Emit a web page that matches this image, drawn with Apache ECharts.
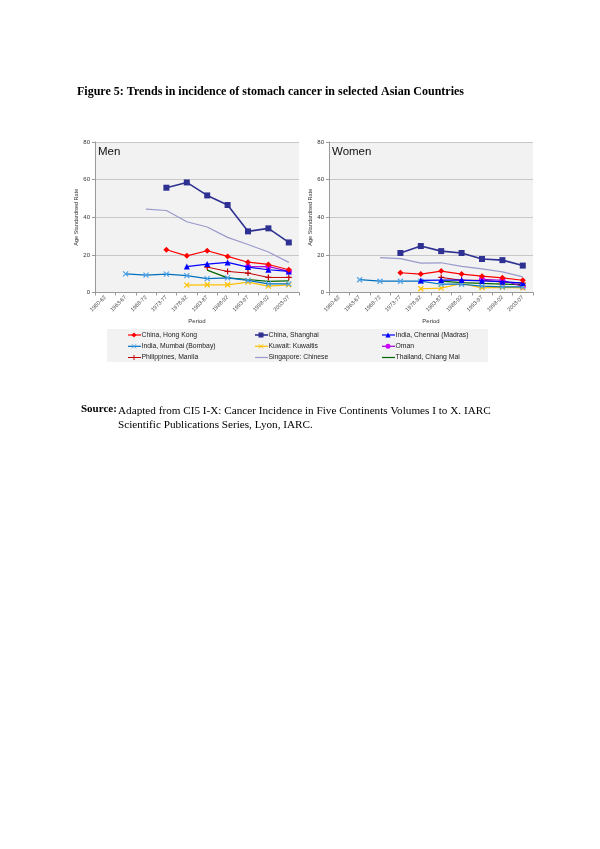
<!DOCTYPE html>
<html><head><meta charset="utf-8">
<script src="https://cdn.jsdelivr.net/npm/echarts@6/dist/echarts.min.js"></script>
<style>html,body{margin:0;padding:0;background:#fff}#c{width:600px;height:849px}</style>
</head><body><div id="c"></div>
<script>
const periods = ['1960-62','1963-67','1968-72','1973-77','1978-82','1983-87','1988-92','1993-97','1998-02','2003-07'];
const yTicks = [0,20,40,60,80];
const seriesNames = ['China, Hong Kong','China, Shanghai','India, Chennai (Madras)','India, Mumbai (Bombay)','Kuwait: Kuwaitis','Oman','Philippines, Manila','Singapore: Chinese','Thailand, Chiang Mai'];
// Men
const menHongKong   = [null,null,null,22.7,19.5,22.2,19.2,16.1,14.9,12.1];
const menShanghai   = [null,null,null,55.7,58.5,51.6,46.5,32.5,34.1,26.6];
const menChennai    = [null,null,null,null,13.8,15.1,16.0,13.5,12.1,11.2];
const menMumbai     = [null,9.9,9.2,9.8,9.0,7.4,7.8,6.4,4.6,4.6];
const menKuwait     = [null,null,null,null,3.9,4.1,4.1,5.5,3.4,4.1];
const menOman       = [null,null,null,null,null,null,null,13.7,13.8,11.2];
const menManila     = [null,null,null,null,null,13.5,11.2,10.3,8.0,8.0];
const menSingapore  = [13.3,null,44.3,43.6,37.6,34.8,29.3,25.5,21.5,16.0];
const menChiangMai  = [null,null,null,null,null,11.9,7.8,6.9,5.9,6.2];
// Women
const womenHongKong  = [null,null,null,10.5,9.8,11.4,9.8,8.7,7.8,6.5];
const womenShanghai  = [null,null,null,21.0,24.7,22.0,21.0,17.8,17.2,14.3];
const womenChennai   = [null,null,null,null,6.4,6.6,6.6,6.2,5.8,5.0];
const womenMumbai    = [null,6.8,6.0,6.0,6.0,4.4,4.4,3.4,3.0,3.0];
const womenKuwait    = [null,null,null,null,2.0,2.3,4.8,2.5,2.7,2.5];
const womenOman      = [null,null,null,null,null,null,null,7.0,6.5,3.2];
const womenManila    = [null,null,null,null,null,8.0,6.5,6.5,5.5,5.0];
const womenSingapore = [3.6,null,18.5,18.0,15.6,15.8,13.9,12.6,11.0,8.3];
const womenChiangMai = [null,null,null,null,null,6.0,5.2,4.8,4.5,4.2];

const menData = [menHongKong,menShanghai,menChennai,menMumbai,menKuwait,menOman,menManila,menSingapore,menChiangMai];
const womenData = [womenHongKong,womenShanghai,womenChennai,womenMumbai,womenKuwait,womenOman,womenManila,womenSingapore,womenChiangMai];

const X_PATH = 'path://M0,0L10,10M10,0L0,10';
const PLUS_PATH = 'path://M5,0L5,10M0,5L10,5';
const DASH_PATH = 'path://M0,5L10,5';
const styles = [
  {line:'#ff0000', fill:'#ff0000', symbol:'diamond', key:'diamond', size:6, lw:1.2},
  {line:'#2e3192', fill:'#2e3192', symbol:'rect', key:'rect', size:6, lw:1.6},
  {line:'#0000ff', fill:'#0000ff', symbol:'triangle', key:'triangle', size:6, lw:1.2},
  {line:'#0070c0', fill:'#4fa3e8', symbol:X_PATH, key:'x', size:5, lw:1.2, stroke:true},
  {line:'#ffc000', fill:'#ffc000', symbol:X_PATH, key:'x', size:5, lw:1.2, stroke:true},
  {line:'#9900cc', fill:'#cc00ff', symbol:'circle', key:'circle', size:6, lw:1.2},
  {line:'#c00000', fill:'#c00000', symbol:PLUS_PATH, key:'plus', size:6, lw:1.0, stroke:true},
  {line:'#9999cc', fill:'#9999cc', symbol:DASH_PATH, key:'none', size:4, lw:1.2, stroke:true},
  {line:'#006600', fill:'#006600', symbol:DASH_PATH, key:'none', size:4, lw:1.2, stroke:true}
];

const FONT = 'Liberation Sans';
function grid(left){ return {left:left, width:204, top:142, height:150.5, backgroundColor:'#f2f2f2', show:true, borderWidth:0}; }
function xAxis(i){ return {type:'category', gridIndex:i, data:periods, boundaryGap:true,
  name:'Period', nameLocation:'middle', nameGap:26, nameTextStyle:{fontFamily:FONT,fontSize:6,color:'#333'},
  axisLine:{lineStyle:{color:'#999',width:1}}, axisTick:{show:true,length:3,lineStyle:{color:'#999'}},
  axisLabel:{rotate:45, fontSize:5.5, fontFamily:FONT, color:'#444', margin:4, interval:0}}; }
function yAxis(i){ return {type:'value', gridIndex:i, min:yTicks[0], max:yTicks[yTicks.length-1], interval:20,
  name:'Age Standardised Rate', nameLocation:'middle', nameGap:14, nameTextStyle:{fontFamily:FONT,fontSize:5.5,color:'#333'},
  axisLine:{show:true, lineStyle:{color:'#999'}}, axisTick:{show:true,length:3,lineStyle:{color:'#999'}},
  splitLine:{lineStyle:{color:'#c8c8c8',width:1}},
  axisLabel:{fontSize:6, fontFamily:FONT, color:'#333', margin:5}}; }

const series = [];
[menData, womenData].forEach((set, gi) => {
  set.forEach((d, k) => {
    const s = styles[k];
    series.push({
      name: seriesNames[k], type:'line', xAxisIndex:gi, yAxisIndex:gi, data:d,
      connectNulls:false, symbol:s.symbol, symbolSize:s.size, showSymbol:true,
      lineStyle:{color:s.line, width:s.lw},
      itemStyle:{color:s.fill, borderColor:s.fill, borderWidth: s.stroke?1.2:0},
      emphasis:{disabled:true}, animation:false, z: 10-k
    });
  });
});

// Legend key drawn as graphics (3 columns x 3 rows)
const legendCols = [128, 255, 382];
const legendRows = [335, 346.3, 357.5];
const legendGraphics = [{type:'rect', shape:{x:107,y:329,width:381,height:33}, style:{fill:'#f2f2f2'}, z:-1, silent:true}];
function seg(x1,y1,x2,y2,c){ return {type:'line', shape:{x1:x1,y1:y1,x2:x2,y2:y2}, style:{stroke:c, lineWidth:1}, silent:true}; }
seriesNames.forEach((n, i) => {
  const s = styles[i];
  const x0 = legendCols[i % 3], y = legendRows[Math.floor(i / 3)];
  const cx = x0 + 6;
  legendGraphics.push({type:'line', shape:{x1:x0, y1:y, x2:x0+13, y2:y}, style:{stroke:s.line, lineWidth:s.lw}, silent:true});
  const r = 2.6;
  if (s.key === 'diamond') legendGraphics.push({type:'polygon', shape:{points:[[cx,y-r],[cx+r,y],[cx,y+r],[cx-r,y]]}, style:{fill:s.fill}, silent:true});
  else if (s.key === 'rect') legendGraphics.push({type:'rect', shape:{x:cx-2.5,y:y-2.5,width:5,height:5}, style:{fill:s.fill}, silent:true});
  else if (s.key === 'triangle') legendGraphics.push({type:'polygon', shape:{points:[[cx,y-r],[cx+r,y+r],[cx-r,y+r]]}, style:{fill:s.fill}, silent:true});
  else if (s.key === 'circle') legendGraphics.push({type:'circle', shape:{cx:cx, cy:y, r:2.5}, style:{fill:s.fill}, silent:true});
  else if (s.key === 'x') { legendGraphics.push(seg(cx-2,y-2,cx+2,y+2,s.fill)); legendGraphics.push(seg(cx+2,y-2,cx-2,y+2,s.fill)); }
  else if (s.key === 'plus') legendGraphics.push(seg(cx,y-2.5,cx,y+2.5,s.fill));
  legendGraphics.push({type:'text', x:x0+13.5, y:y, style:{text:n, fontFamily:FONT, fontSize:6.8, fill:'#222', textVerticalAlign:'middle'}, silent:true});
});

const chart = echarts.init(document.getElementById('c'), null, {renderer:'canvas'});
chart.setOption({
  backgroundColor:'#fff',
  animation:false,
  grid:[grid(95), grid(329)],
  xAxis:[xAxis(0), xAxis(1)],
  yAxis:[yAxis(0), yAxis(1)],
  graphic: legendGraphics.concat([
    {type:'text', left:98, top:146, style:{text:'Men', fontFamily:FONT, fontSize:11.5, fill:'#111'}},
    {type:'text', left:332, top:146, style:{text:'Women', fontFamily:FONT, fontSize:11.5, fill:'#111'}},
    {type:'text', left:77, top:86, style:{text:'Figure 5: Trends in incidence of stomach cancer in selected Asian Countries', fontFamily:'Liberation Serif', fontWeight:'bold', fontSize:12, fill:'#000'}},
    {type:'text', left:81, top:404, style:{text:'Source:', fontFamily:'Liberation Serif', fontWeight:'bold', fontSize:11, fill:'#000'}},
    {type:'text', left:118, top:404, style:{text:'Adapted from CI5 I-X: Cancer Incidence in Five Continents Volumes I to X. IARC\nScientific Publications Series, Lyon, IARC.', fontFamily:'Liberation Serif', fontSize:11.2, lineHeight:14, fill:'#000'}}
  ]),
  series: series
});
</script>
</body></html>
